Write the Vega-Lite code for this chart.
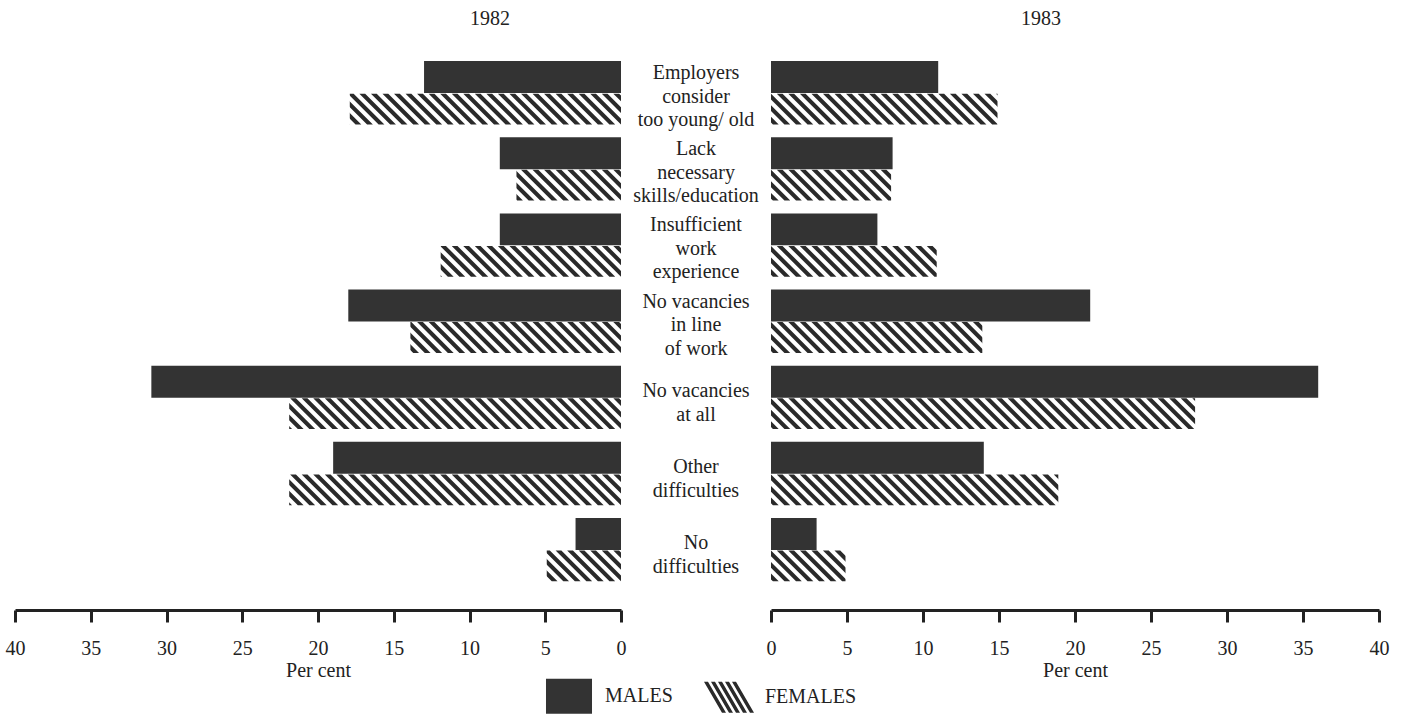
{
  "$schema": "https://vega.github.io/schema/vega-lite/v6.json",
  "padding": {"left": 5, "top": 9, "right": 5, "bottom": 0},
  "background": "white",
  "config": {"view": {"stroke": null}, "font": "Liberation Serif"},
  "datasets": {
    "d": [
      {"year": 1982, "sex": "MALES", "category": "Employers\nconsider\ntoo young/ old", "value": 13},
      {"year": 1982, "sex": "FEMALES", "category": "Employers\nconsider\ntoo young/ old", "value": 18},
      {"year": 1982, "sex": "MALES", "category": "Lack\nnecessary\nskills/education", "value": 8},
      {"year": 1982, "sex": "FEMALES", "category": "Lack\nnecessary\nskills/education", "value": 7},
      {"year": 1982, "sex": "MALES", "category": "Insufficient\nwork\nexperience", "value": 8},
      {"year": 1982, "sex": "FEMALES", "category": "Insufficient\nwork\nexperience", "value": 12},
      {"year": 1982, "sex": "MALES", "category": "No vacancies\nin line\nof work", "value": 18},
      {"year": 1982, "sex": "FEMALES", "category": "No vacancies\nin line\nof work", "value": 14},
      {"year": 1982, "sex": "MALES", "category": "No vacancies\nat all", "value": 31},
      {"year": 1982, "sex": "FEMALES", "category": "No vacancies\nat all", "value": 22},
      {"year": 1982, "sex": "MALES", "category": "Other\ndifficulties", "value": 19},
      {"year": 1982, "sex": "FEMALES", "category": "Other\ndifficulties", "value": 22},
      {"year": 1982, "sex": "MALES", "category": "No\ndifficulties", "value": 3},
      {"year": 1982, "sex": "FEMALES", "category": "No\ndifficulties", "value": 5},
      {"year": 1983, "sex": "MALES", "category": "Employers\nconsider\ntoo young/ old", "value": 11},
      {"year": 1983, "sex": "FEMALES", "category": "Employers\nconsider\ntoo young/ old", "value": 15},
      {"year": 1983, "sex": "MALES", "category": "Lack\nnecessary\nskills/education", "value": 8},
      {"year": 1983, "sex": "FEMALES", "category": "Lack\nnecessary\nskills/education", "value": 8},
      {"year": 1983, "sex": "MALES", "category": "Insufficient\nwork\nexperience", "value": 7},
      {"year": 1983, "sex": "FEMALES", "category": "Insufficient\nwork\nexperience", "value": 11},
      {"year": 1983, "sex": "MALES", "category": "No vacancies\nin line\nof work", "value": 21},
      {"year": 1983, "sex": "FEMALES", "category": "No vacancies\nin line\nof work", "value": 14},
      {"year": 1983, "sex": "MALES", "category": "No vacancies\nat all", "value": 36},
      {"year": 1983, "sex": "FEMALES", "category": "No vacancies\nat all", "value": 28},
      {"year": 1983, "sex": "MALES", "category": "Other\ndifficulties", "value": 14},
      {"year": 1983, "sex": "FEMALES", "category": "Other\ndifficulties", "value": 19},
      {"year": 1983, "sex": "MALES", "category": "No\ndifficulties", "value": 3},
      {"year": 1983, "sex": "FEMALES", "category": "No\ndifficulties", "value": 5}
    ]
  },
  "bounds": "flush",
  "spacing": 0,
  "hconcat": [
    {
      "width": 606,
      "height": 533,
      "title": {"text": "1982", "anchor": "middle", "frame": "group", "dx": 172, "offset": 26, "fontSize": 20, "fontWeight": "normal", "font": "Liberation Serif", "color": "#222"},
      "data": {"name": "d"},
      "transform": [{"filter": "datum.year == 1982"}],
      "encoding": {
        "y": {"field": "category", "type": "nominal", "sort": ["Employers\nconsider\ntoo young/ old", "Lack\nnecessary\nskills/education", "Insufficient\nwork\nexperience", "No vacancies\nin line\nof work", "No vacancies\nat all", "Other\ndifficulties", "No\ndifficulties"], "scale": {"domain": ["Employers\nconsider\ntoo young/ old", "Lack\nnecessary\nskills/education", "Insufficient\nwork\nexperience", "No vacancies\nin line\nof work", "No vacancies\nat all", "Other\ndifficulties", "No\ndifficulties"], "paddingInner": 0.16, "paddingOuter": 0.08}, "axis": null},
        "yOffset": {"field": "sex", "type": "nominal", "scale": {"domain": ["MALES", "FEMALES"], "paddingInner": 0, "paddingOuter": 0}}
      },
      "layer": [
        {
          "transform": [{"filter": "datum.sex == 'FEMALES'"}],
          "mark": {"type": "point", "shape": "M0,8L8,16H2L0,14ZM0,-4L20,16H14L0,2ZM0,-16L32,16H26L0,-10ZM6,-16H12L44,16H38ZM18,-16H24L56,16H50ZM30,-16H36L68,16H62ZM42,-16H48L80,16H74ZM54,-16H60L92,16H86ZM66,-16H72L104,16H98ZM78,-16H84L116,16H110ZM90,-16H96L128,16H122ZM102,-16H108L140,16H134ZM114,-16H120L152,16H146ZM126,-16H132L164,16H158ZM138,-16H144L176,16H170ZM150,-16H156L188,16H182ZM162,-16H168L200,16H194ZM174,-16H180L212,16H206ZM186,-16H192L224,16H218ZM198,-16H204L236,16H230ZM210,-16H216L248,16H242ZM222,-16H228L260,16H254ZM234,-16H240L272,16H266ZM246,-16H252L284,16H278ZM258,-16H264L296,16H290ZM270,-16H276L308,16H302ZM282,-16H288L320,16H314ZM294,-16H300L332,16H326ZM306,-16H312L344,16H338ZM318,-16H324L356,16H350ZM330,-16H336L368,16H362ZM342,-16H348L380,16H374ZM354,-16H360L392,16H386ZM366,-16H372L404,16H398ZM378,-16H384L416,16H410ZM390,-16H396L428,16H422ZM402,-16H408L440,16H434ZM414,-16H420L452,16H446ZM426,-16H432L464,16H458ZM438,-16H444L476,16H470ZM450,-16H456L488,16H482Z", "size": 3.7, "filled": true, "opacity": 1, "color": "#2a2a2a", "strokeWidth": 0, "angle": 180},
          "encoding": {"x": {"datum": 0, "type": "quantitative"}}
        },
        {
          "transform": [{"filter": "datum.sex == 'FEMALES'"}],
          "mark": {"type": "bar", "color": "white", "stroke": "white", "strokeWidth": 3},
          "encoding": {"x": {"field": "value", "type": "quantitative"}, "x2": {"datum": 40}}
        },
        {
          "transform": [{"filter": "datum.sex == 'MALES'"}],
          "mark": {"type": "bar", "color": "#333333"},
          "encoding": {
            "x": {"field": "value", "type": "quantitative", "scale": {"domain": [0, 40], "reverse": true, "nice": false},
              "axis": {"values": [0, 5, 10, 15, 20, 25, 30, 35, 40], "title": "Per cent", "offset": 22, "domainWidth": 3, "domainColor": "#222", "tickWidth": 3, "tickColor": "#222", "tickSize": 12, "labelFontSize": 20, "labelFont": "Liberation Serif", "labelColor": "#222", "labelPadding": 16, "labelFlush": false, "labelOverlap": false, "titleFontSize": 20, "titleFont": "Liberation Serif", "titleFontWeight": "normal", "titleColor": "#222", "titlePadding": 2, "grid": false, "format": "d"}}
          }
        }
      ]
    },
    {
      "width": 150,
      "height": 533,
      "data": {"name": "d"},
      "transform": [{"filter": "datum.year == 1982"}],
      "encoding": {
        "y": {"field": "category", "type": "nominal", "sort": ["Employers\nconsider\ntoo young/ old", "Lack\nnecessary\nskills/education", "Insufficient\nwork\nexperience", "No vacancies\nin line\nof work", "No vacancies\nat all", "Other\ndifficulties", "No\ndifficulties"], "scale": {"domain": ["Employers\nconsider\ntoo young/ old", "Lack\nnecessary\nskills/education", "Insufficient\nwork\nexperience", "No vacancies\nin line\nof work", "No vacancies\nat all", "Other\ndifficulties", "No\ndifficulties"], "paddingInner": 0.16, "paddingOuter": 0.08}, "axis": null}
      },
      "layer": [
        {
          "transform": [{"filter": "datum.sex == 'MALES' && indexof(datum.category, '\\n') != lastindexof(datum.category, '\\n')"}],
          "mark": {"type": "text", "font": "Liberation Serif", "fontSize": 20, "lineHeight": 23.5, "lineBreak": "\n", "color": "#222", "align": "center", "baseline": "middle", "dy": -20},
          "encoding": {"text": {"field": "category", "type": "nominal"}}
        },
        {
          "transform": [{"filter": "datum.sex == 'MALES' && indexof(datum.category, '\\n') == lastindexof(datum.category, '\\n')"}],
          "mark": {"type": "text", "font": "Liberation Serif", "fontSize": 20, "lineHeight": 24.5, "lineBreak": "\n", "color": "#222", "align": "center", "baseline": "middle", "dy": -7},
          "encoding": {"text": {"field": "category", "type": "nominal"}}
        },
        {
          "mark": {"type": "point", "filled": true, "opacity": 0, "strokeWidth": 0},
          "encoding": {
            "color": {"field": "sex", "type": "nominal", "scale": {"domain": ["MALES", "FEMALES"], "range": ["#333333", "#2a2a2a"]},
              "legend": {"title": null, "orient": "none", "legendX": 536, "legendY": 623, "direction": "horizontal", "symbolSize": 1296, "symbolOpacity": 1, "symbolStrokeWidth": 0, "labelFont": "Liberation Serif", "labelFontSize": 20, "labelColor": "#222", "labelOffset": 18, "columnPadding": 30}},
            "shape": {"field": "sex", "type": "nominal", "scale": {"domain": ["MALES", "FEMALES"], "range": ["M-1.278,-0.972H1.278V0.972H-1.278Z", "M-1.389,-0.861H-1.167L-0.167,0.861H-0.389ZM-1,-0.861H-0.778L0.222,0.861H0ZM-0.611,-0.861H-0.389L0.611,0.861H0.389ZM-0.222,-0.861H0L1,0.861H0.778ZM0.167,-0.861H0.389L1.389,0.861H1.167Z"]},
              "legend": {"title": null, "orient": "none", "legendX": 536, "legendY": 623, "direction": "horizontal", "symbolSize": 1296, "symbolOpacity": 1, "symbolStrokeWidth": 0, "labelFont": "Liberation Serif", "labelFontSize": 20, "labelColor": "#222", "labelOffset": 18, "columnPadding": 30}}
          }
        }
      ]
    },
    {
      "width": 608,
      "height": 533,
      "title": {"text": "1983", "anchor": "middle", "frame": "group", "dx": -34, "offset": 26, "fontSize": 20, "fontWeight": "normal", "font": "Liberation Serif", "color": "#222"},
      "data": {"name": "d"},
      "transform": [{"filter": "datum.year == 1983"}],
      "encoding": {
        "y": {"field": "category", "type": "nominal", "sort": ["Employers\nconsider\ntoo young/ old", "Lack\nnecessary\nskills/education", "Insufficient\nwork\nexperience", "No vacancies\nin line\nof work", "No vacancies\nat all", "Other\ndifficulties", "No\ndifficulties"], "scale": {"domain": ["Employers\nconsider\ntoo young/ old", "Lack\nnecessary\nskills/education", "Insufficient\nwork\nexperience", "No vacancies\nin line\nof work", "No vacancies\nat all", "Other\ndifficulties", "No\ndifficulties"], "paddingInner": 0.16, "paddingOuter": 0.08}, "axis": null},
        "yOffset": {"field": "sex", "type": "nominal", "scale": {"domain": ["MALES", "FEMALES"], "paddingInner": 0, "paddingOuter": 0}}
      },
      "layer": [
        {
          "transform": [{"filter": "datum.sex == 'FEMALES'"}],
          "mark": {"type": "point", "shape": "M0,8L8,16H2L0,14ZM0,-4L20,16H14L0,2ZM0,-16L32,16H26L0,-10ZM6,-16H12L44,16H38ZM18,-16H24L56,16H50ZM30,-16H36L68,16H62ZM42,-16H48L80,16H74ZM54,-16H60L92,16H86ZM66,-16H72L104,16H98ZM78,-16H84L116,16H110ZM90,-16H96L128,16H122ZM102,-16H108L140,16H134ZM114,-16H120L152,16H146ZM126,-16H132L164,16H158ZM138,-16H144L176,16H170ZM150,-16H156L188,16H182ZM162,-16H168L200,16H194ZM174,-16H180L212,16H206ZM186,-16H192L224,16H218ZM198,-16H204L236,16H230ZM210,-16H216L248,16H242ZM222,-16H228L260,16H254ZM234,-16H240L272,16H266ZM246,-16H252L284,16H278ZM258,-16H264L296,16H290ZM270,-16H276L308,16H302ZM282,-16H288L320,16H314ZM294,-16H300L332,16H326ZM306,-16H312L344,16H338ZM318,-16H324L356,16H350ZM330,-16H336L368,16H362ZM342,-16H348L380,16H374ZM354,-16H360L392,16H386ZM366,-16H372L404,16H398ZM378,-16H384L416,16H410ZM390,-16H396L428,16H422ZM402,-16H408L440,16H434ZM414,-16H420L452,16H446ZM426,-16H432L464,16H458ZM438,-16H444L476,16H470ZM450,-16H456L488,16H482Z", "size": 3.7, "filled": true, "opacity": 1, "color": "#2a2a2a", "strokeWidth": 0},
          "encoding": {"x": {"datum": 0, "type": "quantitative"}}
        },
        {
          "transform": [{"filter": "datum.sex == 'FEMALES'"}],
          "mark": {"type": "bar", "color": "white", "stroke": "white", "strokeWidth": 3},
          "encoding": {"x": {"field": "value", "type": "quantitative"}, "x2": {"datum": 40}}
        },
        {
          "transform": [{"filter": "datum.sex == 'MALES'"}],
          "mark": {"type": "bar", "color": "#333333"},
          "encoding": {
            "x": {"field": "value", "type": "quantitative", "scale": {"domain": [0, 40], "nice": false},
              "axis": {"values": [0, 5, 10, 15, 20, 25, 30, 35, 40], "title": "Per cent", "offset": 22, "domainWidth": 3, "domainColor": "#222", "tickWidth": 3, "tickColor": "#222", "tickSize": 12, "labelFontSize": 20, "labelFont": "Liberation Serif", "labelColor": "#222", "labelPadding": 16, "labelFlush": false, "labelOverlap": false, "titleFontSize": 20, "titleFont": "Liberation Serif", "titleFontWeight": "normal", "titleColor": "#222", "titlePadding": 2, "grid": false, "format": "d"}}
          }
        }
      ]
    }
  ]
}
